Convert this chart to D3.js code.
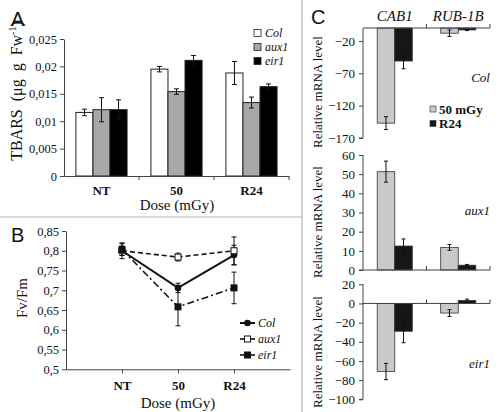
<!DOCTYPE html>
<html><head><meta charset="utf-8">
<script src="https://cdn.jsdelivr.net/npm/d3@7"></script>
<style>body{margin:0;background:#fff} svg{display:block} text{font-family:"Liberation Serif","Times New Roman",serif;fill:#111}</style>
</head><body><svg id="c" width="500" height="412"></svg>
<script>
// ---------- DATA ----------
const doseCats = ["NT", "50", "R24"];
const genotypes = ["Col", "aux1", "eir1"];
// Panel A: TBARS
const tbarsCol = [0.0116, 0.0195, 0.0188];
const tbarsColErr = [0.0006, 0.0005, 0.0021];
const tbarsAux1 = [0.0121, 0.0154, 0.0134];
const tbarsAux1Err = [0.0022, 0.0005, 0.0010];
const tbarsEir1 = [0.0121, 0.0211, 0.0163];
const tbarsEir1Err = [0.0018, 0.0009, 0.0005];
const tbarsTicks = [0, 0.005, 0.01, 0.015, 0.02, 0.025];
// Panel B: Fv/Fm
const fvCol = [0.800, 0.706, 0.789];
const fvColErr = [0.020, 0.012, 0.025];
const fvAux1 = [0.800, 0.784, 0.800];
const fvAux1Err = [0.012, 0.010, 0.035];
const fvEir1 = [0.803, 0.658, 0.706];
const fvEir1Err = [0.015, 0.048, 0.040];
const fvTicks = [0.5, 0.55, 0.6, 0.65, 0.7, 0.75, 0.8, 0.85];
// Panel C: relative mRNA level
const genes = ["CAB1", "RUB-1B"];
const treatments = ["50 mGy", "R24"];
const colMGy = [-147, -8], colMGyErr = [10, 5];
const colR24 = [-51, -3], colR24Err = [12, 1];
const aux1MGy = [51.3, 11.8], aux1MGyErr = [5.5, 1.5];
const aux1R24 = [12.5, 2.5], aux1R24Err = [3.7, 0.4];
const eir1MGy = [-71, -10], eir1MGyErr = [8.5, 3.5];
const eir1R24 = [-29, 3], eir1R24Err = [12, 1.5];
const colTicks = [-170, -120, -70, -20];
const aux1Ticks = [0, 10, 20, 30, 40, 50, 60];
const eir1Ticks = [-100, -80, -60, -40, -20, 0, 20];

// ---------- DRAW ----------
const svg = d3.select("#c");
const fmt = v => String(v).replace(".", ",");
const AX = "#444";

function styleAxis(g) {
  g.selectAll(".domain").attr("stroke", AX);
  g.selectAll(".tick line").attr("stroke", AX);
  g.selectAll(".tick text").style("font-family", '"Liberation Serif",serif').style("font-size", "12.5px").attr("fill", "#111");
}
function errBar(g, x, y1, y2, cap) {
  g.append("line").attr("x1", x).attr("x2", x).attr("y1", y1).attr("y2", y2).attr("stroke", "#111").attr("stroke-width", 1);
  [y1, y2].forEach(y => g.append("line").attr("x1", x - cap).attr("x2", x + cap).attr("y1", y).attr("y2", y).attr("stroke", "#111").attr("stroke-width", 1));
}

// separators
svg.append("line").attr("x1", 302).attr("x2", 302).attr("y1", 0).attr("y2", 412).attr("stroke", "#b5b5b5").attr("stroke-width", 1.2);
svg.append("line").attr("x1", 0).attr("x2", 302).attr("y1", 217).attr("y2", 217).attr("stroke", "#b5b5b5").attr("stroke-width", 1.2);

// panel letters
[["A", 11, 26], ["B", 11, 242], ["C", 311, 24]].forEach(([t, x, y]) =>
  svg.append("text").attr("x", x).attr("y", y).text(t).style("font-family", '"Liberation Sans",Arial,sans-serif').style("font-size", "20px"));

// ===== Panel A =====
{
  const x = d3.scaleBand().domain(doseCats).range([64, 289]).paddingInner(0).paddingOuter(0);
  const xi = d3.scaleBand().domain(genotypes).range([0, x.bandwidth()]).paddingInner(0).paddingOuter(0.7);
  const y = d3.scaleLinear().domain([0, 0.025]).range([176, 39]);
  const g = svg.append("g");
  const ser = [
    { v: tbarsCol, e: tbarsColErr, fill: "#ffffff" },
    { v: tbarsAux1, e: tbarsAux1Err, fill: "#a8a8a8" },
    { v: tbarsEir1, e: tbarsEir1Err, fill: "#000000" }];
  ser.forEach((s, si) => {
    doseCats.forEach((c, ci) => {
      const bx = x(c) + xi(genotypes[si]);
      g.append("rect").attr("x", bx).attr("y", y(s.v[ci])).attr("width", xi.bandwidth()).attr("height", y(0) - y(s.v[ci]))
        .attr("fill", s.fill).attr("stroke", "#222").attr("stroke-width", 1);
    });
  });
  ser.forEach((s, si) => doseCats.forEach((c, ci) => {
    const cx = x(c) + xi(genotypes[si]) + xi.bandwidth() / 2;
    errBar(g, cx, y(s.v[ci] + s.e[ci]), y(s.v[ci] - s.e[ci]), 2.5);
  }));
  const ya = svg.append("g").attr("transform", "translate(64,0)")
    .call(d3.axisLeft(y).tickValues(tbarsTicks).tickFormat(fmt).tickSize(4).tickSizeOuter(0));
  styleAxis(ya);
  const xa = svg.append("g").attr("transform", "translate(0,176)")
    .call(d3.axisBottom(x).tickSize(0).tickPadding(10).tickSizeOuter(0));
  styleAxis(xa);
  xa.selectAll(".tick text").style("font-weight", "bold").style("font-size", "13px");
  [139, 214, 289].forEach(v => svg.append("line").attr("x1", v).attr("x2", v).attr("y1", 176).attr("y2", 180).attr("stroke", AX));
  svg.append("text").attr("x", 177).attr("y", 210).attr("text-anchor", "middle").style("font-size", "15px").text("Dose (mGy)");
  svg.append("text").attr("transform", "translate(22,91) rotate(-90)").attr("text-anchor", "middle").style("font-size", "16px").style("word-spacing", "4px")
    .html('TBARS (μg g Fw<tspan dy="-6" font-size="10px">-1</tspan><tspan dy="6">)</tspan>');
  // legend
  const lg = svg.append("g");
  genotypes.forEach((gn, i) => {
    const yy = 33 + i * 14;
    lg.append("rect").attr("x", 254).attr("y", yy - 3.5).attr("width", 7).attr("height", 7).attr("fill", ser[i].fill).attr("stroke", "#222").attr("stroke-width", 0.8);
    lg.append("text").attr("x", 265).attr("y", yy + 4).style("font-size", "12px").style("font-style", "italic").text(gn);
  });
}

// ===== Panel B =====
{
  const x = d3.scaleLinear().domain([0, 4]).range([66, 290]);
  const y = d3.scaleLinear().domain([0.5, 0.85]).range([369.3, 231]);
  const g = svg.append("g");
  const ser = [
    { v: fvCol, e: fvColErr, dash: null, w: 2, mk: "circle" },
    { v: fvAux1, e: fvAux1Err, dash: "5,3", w: 1.6, mk: "open" },
    { v: fvEir1, e: fvEir1Err, dash: "7,3,2,3", w: 1.6, mk: "square" }];
  const ya = svg.append("g").attr("transform", "translate(66,0)")
    .call(d3.axisLeft(y).tickValues(fvTicks).tickFormat(fmt).tickSize(4).tickSizeOuter(0));
  styleAxis(ya);
  const xa = svg.append("g").attr("transform", "translate(0,369.3)")
    .call(d3.axisBottom(x).tickValues([1, 2, 3]).tickFormat((d, i) => doseCats[i]).tickSize(4).tickPadding(7).tickSizeOuter(0));
  styleAxis(xa);
  xa.selectAll(".tick text").style("font-weight", "bold").style("font-size", "13px");
  ser.forEach(s => {
    doseCats.forEach((c, i) => errBar(g, x(i + 1), y(s.v[i] + s.e[i]), y(s.v[i] - s.e[i]), 2.5));
  });
  ser.forEach(s => {
    const line = d3.line().x((d, i) => x(i + 1)).y(d => y(d));
    g.append("path").attr("d", line(s.v)).attr("fill", "none").attr("stroke", "#111").attr("stroke-width", s.w).attr("stroke-dasharray", s.dash);
  });
  function marker(gg, mk, cx, cy) {
    if (mk === "circle") gg.append("circle").attr("cx", cx).attr("cy", cy).attr("r", 3.3).attr("fill", "#111");
    else gg.append("rect").attr("x", cx - 3).attr("y", cy - 3).attr("width", 6).attr("height", 6)
      .attr("fill", mk === "open" ? "#fff" : "#111").attr("stroke", "#111").attr("stroke-width", 1);
  }
  ser.forEach(s => s.v.forEach((d, i) => marker(g, s.mk, x(i + 1), y(d))));
  // legend
  genotypes.forEach((gn, i) => {
    const yy = 323 + i * 16;
    g.append("line").attr("x1", 240).attr("x2", 255).attr("y1", yy).attr("y2", yy).attr("stroke", "#111").attr("stroke-width", ser[i].w);
    marker(g, ser[i].mk, 247.5, yy);
    g.append("text").attr("x", 258).attr("y", yy + 4).style("font-size", "12px").style("font-style", "italic").text(gn);
  });
  svg.append("text").attr("transform", "translate(27,298) rotate(-90)").attr("text-anchor", "middle").style("font-size", "15px").text("Fv/Fm");
  svg.append("text").attr("x", 178).attr("y", 408).attr("text-anchor", "middle").style("font-size", "15px").text("Dose (mGy)");
}

// ===== Panel C =====
{
  const x = d3.scaleBand().domain(genes).range([363, 490]).paddingInner(0).paddingOuter(0);
  const xi = d3.scaleBand().domain(treatments).range([0, x.bandwidth()]).paddingInner(0).paddingOuter(0.81);
  const fills = ["#c9c9c9", "#161616"];
  const panels = [
    { name: "Col", dom: [-170, 0], rng: [138, 28], ticks: colTicks, s: [[colMGy, colMGyErr], [colR24, colR24Err]], ly: 82, yl: 92 },
    { name: "aux1", dom: [0, 60], rng: [270, 155], ticks: aux1Ticks, s: [[aux1MGy, aux1MGyErr], [aux1R24, aux1R24Err]], ly: 215, yl: 222 },
    { name: "eir1", dom: [-100, 20], rng: [399.3, 284.3], ticks: eir1Ticks, s: [[eir1MGy, eir1MGyErr], [eir1R24, eir1R24Err]], ly: 368, yl: 352 }];
  panels.forEach(p => {
    const y = d3.scaleLinear().domain(p.dom).range(p.rng);
    const g = svg.append("g");
    p.s.forEach(([vals, errs], ti) => {
      genes.forEach((gn, gi) => {
        const v = vals[gi];
        const bx = x(gn) + xi(treatments[ti]);
        g.append("rect").attr("x", bx).attr("y", Math.min(y(v), y(0))).attr("width", xi.bandwidth())
          .attr("height", Math.abs(y(v) - y(0))).attr("fill", fills[ti]).attr("stroke", "#333").attr("stroke-width", 0.8);
      });
    });
    p.s.forEach(([vals, errs], ti) => genes.forEach((gn, gi) => {
      const cx = x(gn) + xi(treatments[ti]) + xi.bandwidth() / 2;
      errBar(g, cx, y(vals[gi] + errs[gi]), y(vals[gi] - errs[gi]), 2);
    }));
    const ya = svg.append("g").attr("transform", "translate(363,0)")
      .call(d3.axisLeft(y).tickValues(p.ticks).tickSize(4).tickPadding(4).tickSizeOuter(0));
    styleAxis(ya);
    ya.selectAll(".tick text").style("font-size", "13px");
    ya.select(".domain").attr("d", `M-4,${p.rng[0]}H0V${p.rng[1]}`);
    const y0 = y(0);
    svg.append("line").attr("x1", 363).attr("x2", 490).attr("y1", y0).attr("y2", y0).attr("stroke", AX);
    [426.5, 490].forEach(v => svg.append("line").attr("x1", v).attr("x2", v).attr("y1", y0).attr("y2", y0 - 4).attr("stroke", AX));
    svg.append("text").attr("x", 490).attr("y", p.ly).attr("text-anchor", "end").style("font-size", "13px").style("font-style", "italic").text(p.name);
    svg.append("text").attr("transform", `translate(322,${p.yl}) rotate(-90)`).attr("text-anchor", "middle").style("font-size", "13px").text("Relative mRNA level");
  });
  // gene headers
  genes.forEach(gn => svg.append("text").attr("x", x(gn) + x.bandwidth() / 2).attr("y", 21).attr("text-anchor", "middle")
    .style("font-size", "15px").style("font-style", "italic").text(gn));
  // legend
  treatments.forEach((t, i) => {
    const yy = 109 + i * 14.5;
    svg.append("rect").attr("x", 430).attr("y", yy - 3).attr("width", 6).attr("height", 6).attr("fill", fills[i]).attr("stroke", "#333").attr("stroke-width", 0.6);
    svg.append("text").attr("x", 439).attr("y", yy + 4.5).style("font-size", "13px").style("font-weight", "bold").text(t);
  });
}
</script></body></html>
